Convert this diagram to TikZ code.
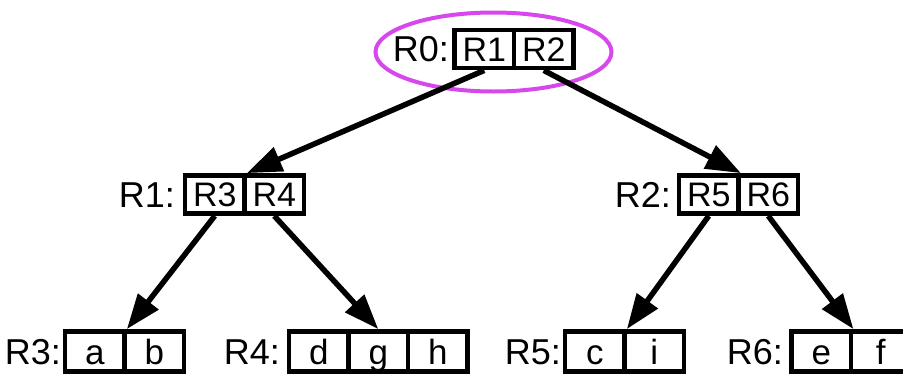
\documentclass[tikz,border=0pt]{standalone}
\usepackage{fontspec}
\setmainfont{Liberation Sans}
\usetikzlibrary{arrows.meta}
\definecolor{hilite}{RGB}{214,72,236}
\begin{document}
\begin{tikzpicture}[x=1pt,y=-1pt,
 cell/.style={draw, line width=4.8pt, minimum width=59.5pt, minimum height=38pt, inner sep=0pt, text height=24.3pt, text depth=0pt, font=\fontsize{34}{40}\selectfont},
 leaf/.style={cell, minimum height=40pt, text height=25pt, font=\fontsize{35}{42}\selectfont},
 lbl/.style={anchor=east, inner sep=0pt, text height=25.8pt, text depth=0pt, font=\fontsize{36}{43}\selectfont},
 ptr/.style={line width=5.5pt, -{Triangle[length=35pt,width=25pt]}},
 hl/.style={draw=hilite, line width=4pt}]
\useasboundingbox (0,0) rectangle (903,375);

% highlight ellipse around root
\draw[hl] (493.5,52) ellipse [x radius=118pt, y radius=39.5pt];

% root
\node[cell] (r0a) at (484.25,49) {R1};
\node[cell] (r0b) at (543.75,49) {R2};
\node[lbl] (l0) at (449,49) {R0:};

% level 1
\node[cell] (r1a) at (214.75,194.5) {R3};
\node[cell] (r1b) at (274.25,194.5) {R4};
\node[lbl] (l1) at (175,194.5) {R1:};

\node[cell] (r2a) at (708.75,194.5) {R5};
\node[cell] (r2b) at (768.25,194.5) {R6};
\node[lbl] (l2) at (671,194.5) {R2:};

% leaves
\node[leaf] (r3a) at (94.75,351.5) {a};
\node[leaf] (r3b) at (154.25,351.5) {b};
\node[lbl] (l3) at (61,351.5) {R3:};

\node[leaf] (r4a) at (318.75,351.5) {d};
\node[leaf] (r4b) at (378.25,351.5) {g};
\node[leaf] (r4c) at (437.75,351.5) {h};
\node[lbl] (l4) at (280,351.5) {R4:};

\node[leaf] (r5a) at (594.75,351.5) {c};
\node[leaf] (r5b) at (654.25,351.5) {i};
\node[lbl] (l5) at (561,351.5) {R5:};

\node[leaf] (r6a) at (821.25,351.5) {e};
\node[leaf] (r6b) at (880.75,351.5) {f};
\node[lbl] (l6) at (783,351.5) {R6:};

% pointers
\draw[ptr] (r0a.south) -- (r1a.north east);
\draw[ptr] (r0b.south) -- (r2a.north east);
\draw[ptr] (r1a.south) -- (r3a.north east);
\draw[ptr] (r1b.south) -- (r4b.north);
\draw[ptr] (r2a.south) -- (r5a.north east);
\draw[ptr] (r2b.south) -- (r6a.north east);
\end{tikzpicture}
\end{document}
